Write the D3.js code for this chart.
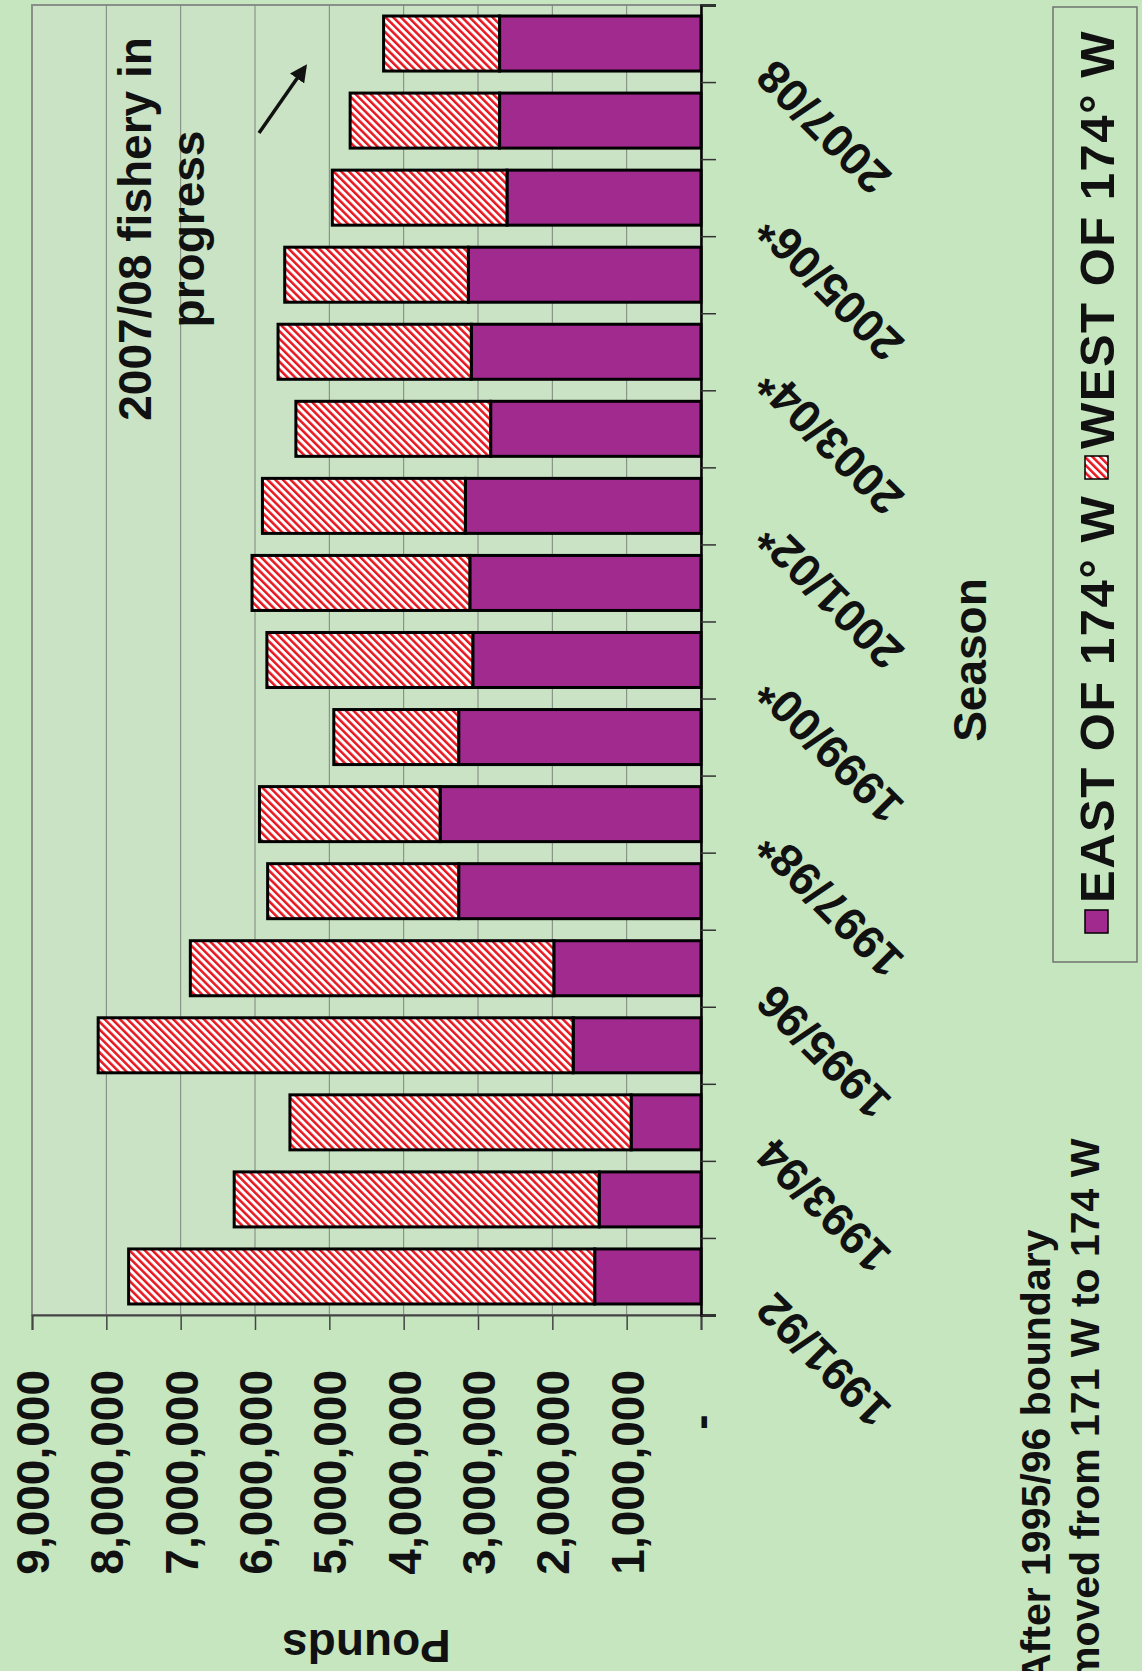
<!DOCTYPE html>
<html>
<head>
<meta charset="utf-8">
<script src="https://cdn.jsdelivr.net/npm/d3@7"></script>
<style>
  html, body { margin: 0; padding: 0; background: #c6e6bf; }
  svg { display: block; }
  text { font-family: "Liberation Sans", Arial, sans-serif; font-weight: bold; fill: #111; }
</style>
</head>
<body>
<svg id="chart" width="1142" height="1671"></svg>
<script>
// ---- data (pounds) ----
const seasons = ["1991/92","1992/93","1993/94","1994/95","1995/96","1996/97","1997/98*","1998/99",
  "1999/00*","2000/01","2001/02*","2002/03","2003/04*","2004/05","2005/06*","2006/07","2007/08"];
const eastOf174 = [1430000,1370000,940000,1720000,1980000,3260000,3510000,3260000,
  3070000,3110000,3170000,2830000,3090000,3130000,2610000,2710000,2710000];
const westOf174 = [6270000,4910000,4590000,6390000,4890000,2570000,2430000,1680000,
  2770000,2930000,2730000,2620000,2600000,2470000,2350000,2010000,1560000];
const valueTicks = [0,1000000,2000000,3000000,4000000,5000000,6000000,7000000,8000000,9000000];
const seriesNames = ["EAST OF 174\u00b0  W", "WEST OF 174\u00b0  W"];
const yAxisTitle = "Pounds";
const xAxisTitle = "Season";
const noteLines = ["2007/08 fishery in", "progress"];
const footLines = ["After 1995/96 boundary", "moved from 171 W to 174 W"];

// ---- layout (image is the chart turned a quarter turn counter-clockwise) ----
const svg = d3.select("#chart");
const W = 1142, H = 1671;
const baseX = 701, topValX = 32;      // value 0 and value 9,000,000
const catTop = 5, catBottom = 1315;   // category axis extent
const purple = "#a02a8e";
const red = "#e8161e";
const fs = 46;

svg.append("rect").attr("width", W).attr("height", H).attr("fill", "#c6e6bf");

const defs = svg.append("defs");
const pat = defs.append("pattern").attr("id", "hatch").attr("patternUnits", "userSpaceOnUse")
  .attr("width", 5.4).attr("height", 5.4).attr("patternTransform", "rotate(-45)");
pat.append("rect").attr("width", 5.4).attr("height", 5.4).attr("fill", "#ffffff");
pat.append("rect").attr("x", 0).attr("width", 2.5).attr("height", 5.4).attr("fill", red);

const x = d3.scaleLinear().domain([0, 9000000]).range([baseX, topValX]);
const y = d3.scaleBand().domain(seasons).range([catBottom, catTop]).paddingInner(0.286).paddingOuter(0.143);
const idx = d3.scaleLinear().domain([0, seasons.length]).range([catBottom, catTop]);

// plot area
svg.append("rect").attr("x", topValX).attr("y", catTop).attr("width", baseX - topValX).attr("height", catBottom - catTop)
  .attr("fill", "#c9e3c4").attr("stroke", "#8a8f8a").attr("stroke-width", 2);

// gridlines
svg.append("g").selectAll("line").data(valueTicks.filter(v => v > 0 && v < 9000000)).join("line")
  .attr("x1", d => x(d)).attr("x2", d => x(d)).attr("y1", catTop).attr("y2", catBottom)
  .attr("stroke", "#7d857d").attr("stroke-width", 1);

// bars
const rows = seasons.map((s, i) => ({ season: s, east: eastOf174[i], west: westOf174[i] }));
const stack = d3.stack().keys(["east", "west"])(rows);
const fills = { east: purple, west: "url(#hatch)" };
svg.append("g").selectAll("g").data(stack).join("g")
  .attr("fill", d => fills[d.key])
  .selectAll("rect").data(d => d).join("rect")
  .attr("x", d => x(d[1])).attr("width", d => x(d[0]) - x(d[1]))
  .attr("y", d => y(d.data.season)).attr("height", y.bandwidth())
  .attr("stroke", "#000").attr("stroke-width", 3);

// value axis (bottom of image)
const vAxis = svg.append("g").attr("transform", `translate(0,${catBottom})`)
  .call(d3.axisBottom(x).tickValues(valueTicks).tickSize(15)
    .tickFormat(d => d === 0 ? "-" : d3.format(",")(d)));
vAxis.select(".domain").attr("stroke", "#444").attr("stroke-width", 2);
vAxis.selectAll(".tick line").attr("stroke", "#444").attr("stroke-width", 1.5);
vAxis.selectAll(".tick text")
  .attr("x", 0).attr("y", 0).attr("dy", 0)
  .attr("font-size", fs)
  .attr("text-anchor", d => d === 0 ? "middle" : "end")
  .attr("transform", d => d === 0 ? "translate(14,107) rotate(-90)" : "translate(16.5,55) rotate(-90)");

// category axis (right of bars)
const cAxis = svg.append("g").attr("transform", `translate(${baseX},0)`)
  .call(d3.axisRight(idx).tickValues(d3.range(seasons.length + 1)).tickSize(15).tickFormat(""));
cAxis.select(".domain").attr("stroke", "#000").attr("stroke-width", 2.5);
cAxis.selectAll(".tick line").attr("stroke", "#333").attr("stroke-width", 1.5);

// category labels (every other season)
svg.append("g").selectAll("text").data(seasons.filter((s, i) => i % 2 === 0)).join("text")
  .attr("font-size", fs).attr("text-anchor", "end")
  .attr("transform", d => `translate(776,${y(d) + y.bandwidth() / 2 + 13.6}) rotate(-135)`)
  .text(d => d);

// axis titles
svg.append("text").attr("font-size", fs).attr("text-anchor", "middle")
  .attr("transform", `translate(${(baseX + topValX) / 2},1630) rotate(180)`).text(yAxisTitle);
svg.append("text").attr("font-size", fs).attr("text-anchor", "middle")
  .attr("transform", `translate(986,${(catTop + catBottom) / 2}) rotate(-90)`).text(xAxisTitle);

// annotation
svg.append("text").attr("font-size", fs).attr("text-anchor", "middle")
  .attr("transform", "translate(151,229) rotate(-90)").text(noteLines[0]);
svg.append("text").attr("font-size", fs).attr("text-anchor", "middle")
  .attr("transform", "translate(204,229) rotate(-90)").text(noteLines[1]);
defs.append("marker").attr("id", "arrowhead").attr("viewBox", "0 0 10 10").attr("refX", 8).attr("refY", 5)
  .attr("markerWidth", 5).attr("markerHeight", 5).attr("orient", "auto")
  .append("path").attr("d", "M0,0 L10,5 L0,10 z").attr("fill", "#111");
svg.append("line").attr("x1", 259).attr("y1", 133).attr("x2", 305).attr("y2", 67)
  .attr("stroke", "#111").attr("stroke-width", 3.5).attr("marker-end", "url(#arrowhead)");

// footnote
footLines.forEach((t, i) => {
  svg.append("text").attr("font-size", 41).attr("text-anchor", "start")
    .attr("transform", `translate(${1050 + i * 49},1683) rotate(-90)`).text(t);
});

// legend
const lg = svg.append("g");
lg.append("rect").attr("x", 1053).attr("y", 7).attr("width", 84).attr("height", 955)
  .attr("fill", "none").attr("stroke", "#6f746f").attr("stroke-width", 1.5);
const legendItems = [
  { name: seriesNames[0], fill: purple, my: 910 },
  { name: seriesNames[1], fill: "url(#hatch)", my: 456 }
];
legendItems.forEach(it => {
  lg.append("rect").attr("x", 1085).attr("y", it.my).attr("width", 23).attr("height", 23)
    .attr("fill", it.fill).attr("stroke", "#000").attr("stroke-width", 1.5);
  lg.append("text").attr("font-size", 49).attr("letter-spacing", 1.5).attr("text-anchor", "start")
    .attr("transform", `translate(1114,${it.my - 7}) rotate(-90)`).text(it.name);
});
</script>
</body>
</html>
